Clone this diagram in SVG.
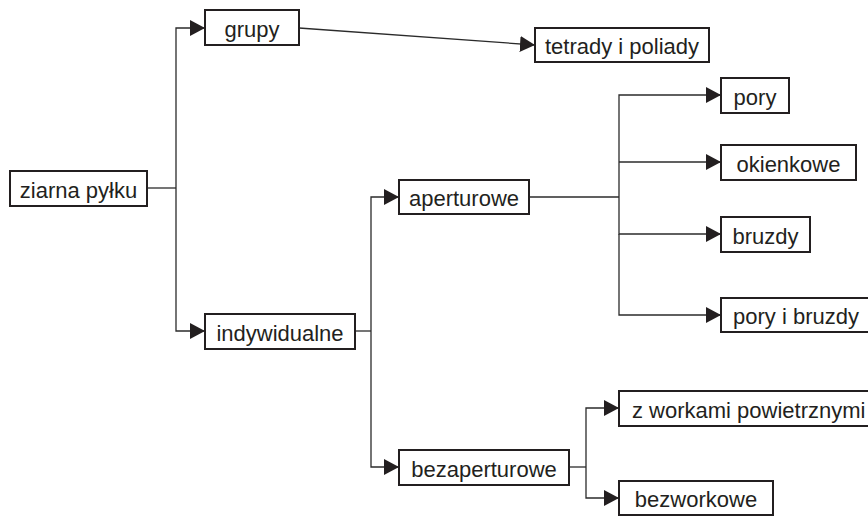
<svg xmlns="http://www.w3.org/2000/svg" width="868" height="516" viewBox="0 0 868 516">
<defs>
<style>
.box{fill:#fff;stroke:#231f20;stroke-width:2}
.t{font-family:"Liberation Sans",Arial,sans-serif;font-size:22px;fill:#231f20;text-anchor:middle}
.ts{font-family:"Liberation Sans",Arial,sans-serif;font-size:22px;fill:#231f20;text-anchor:start}
.c{fill:none;stroke:#2b2b2b;stroke-width:1.3}
</style>
<marker id="ah" markerUnits="userSpaceOnUse" markerWidth="16" markerHeight="16" refX="15" refY="8" orient="auto" viewBox="0 0 16 16">
<path d="M0,0 L15,8 L0,16 z" fill="#231f20"/>
</marker>
</defs>
<rect width="868" height="516" fill="#fff"/>
<g id="connectors">
<path class="c" d="M147,188 H176"/>
<path class="c" d="M176,188 V28 H205" marker-end="url(#ah)"/>
<path class="c" d="M176,188 V331 H205" marker-end="url(#ah)"/>
<path class="c" d="M299,28 L535,45" marker-end="url(#ah)"/>
<path class="c" d="M355,331 H371"/>
<path class="c" d="M371,331 V197 H399" marker-end="url(#ah)"/>
<path class="c" d="M371,331 V467 H399" marker-end="url(#ah)"/>
<path class="c" d="M529,197 H619"/>
<path class="c" d="M619,197 V95 H721" marker-end="url(#ah)"/>
<path class="c" d="M619,162 H721" marker-end="url(#ah)"/>
<path class="c" d="M619,197 V234 H721" marker-end="url(#ah)"/>
<path class="c" d="M619,234 V315 H721" marker-end="url(#ah)"/>
<path class="c" d="M569,467 H586"/>
<path class="c" d="M586,467 V408 H619" marker-end="url(#ah)"/>
<path class="c" d="M586,467 V498 H619" marker-end="url(#ah)"/>
</g>
<g id="ziarna"><rect class="box" x="10" y="171" width="137" height="35"/><text class="t" x="78.5" y="197.5">ziarna pyłku</text></g>
<g id="grupy"><rect class="box" x="205" y="10" width="94" height="35"/><text class="t" x="252" y="36.5">grupy</text></g>
<g id="tetrady"><rect class="box" x="535" y="28" width="174" height="34"/><text class="t" x="622" y="54">tetrady i poliady</text></g>
<g id="indywidualne"><rect class="box" x="205" y="314" width="150" height="35"/><text class="t" x="280" y="340.5">indywidualne</text></g>
<g id="aperturowe"><rect class="box" x="399" y="180" width="130" height="34"/><text class="t" x="464" y="206">aperturowe</text></g>
<g id="bezaperturowe"><rect class="box" x="399" y="450" width="170" height="35"/><text class="t" x="484" y="476.5">bezaperturowe</text></g>
<g id="pory"><rect class="box" x="721" y="78" width="68" height="35"/><text class="t" x="755" y="104.5">pory</text></g>
<g id="okienkowe"><rect class="box" x="721" y="145" width="135" height="35"/><text class="t" x="788.5" y="171.5">okienkowe</text></g>
<g id="bruzdy"><rect class="box" x="721" y="217" width="89" height="35"/><text class="t" x="765.5" y="243.5">bruzdy</text></g>
<g id="poryibruzdy"><rect class="box" x="721" y="298" width="170" height="34"/><text class="ts" x="733" y="324">pory i bruzdy</text></g>
<g id="zworkami"><rect class="box" x="619" y="391" width="270" height="35"/><text class="ts" x="632" y="417.5">z workami powietrznymi</text></g>
<g id="bezworkowe"><rect class="box" x="619" y="481" width="154" height="34"/><text class="t" x="696" y="507">bezworkowe</text></g>
</svg>
